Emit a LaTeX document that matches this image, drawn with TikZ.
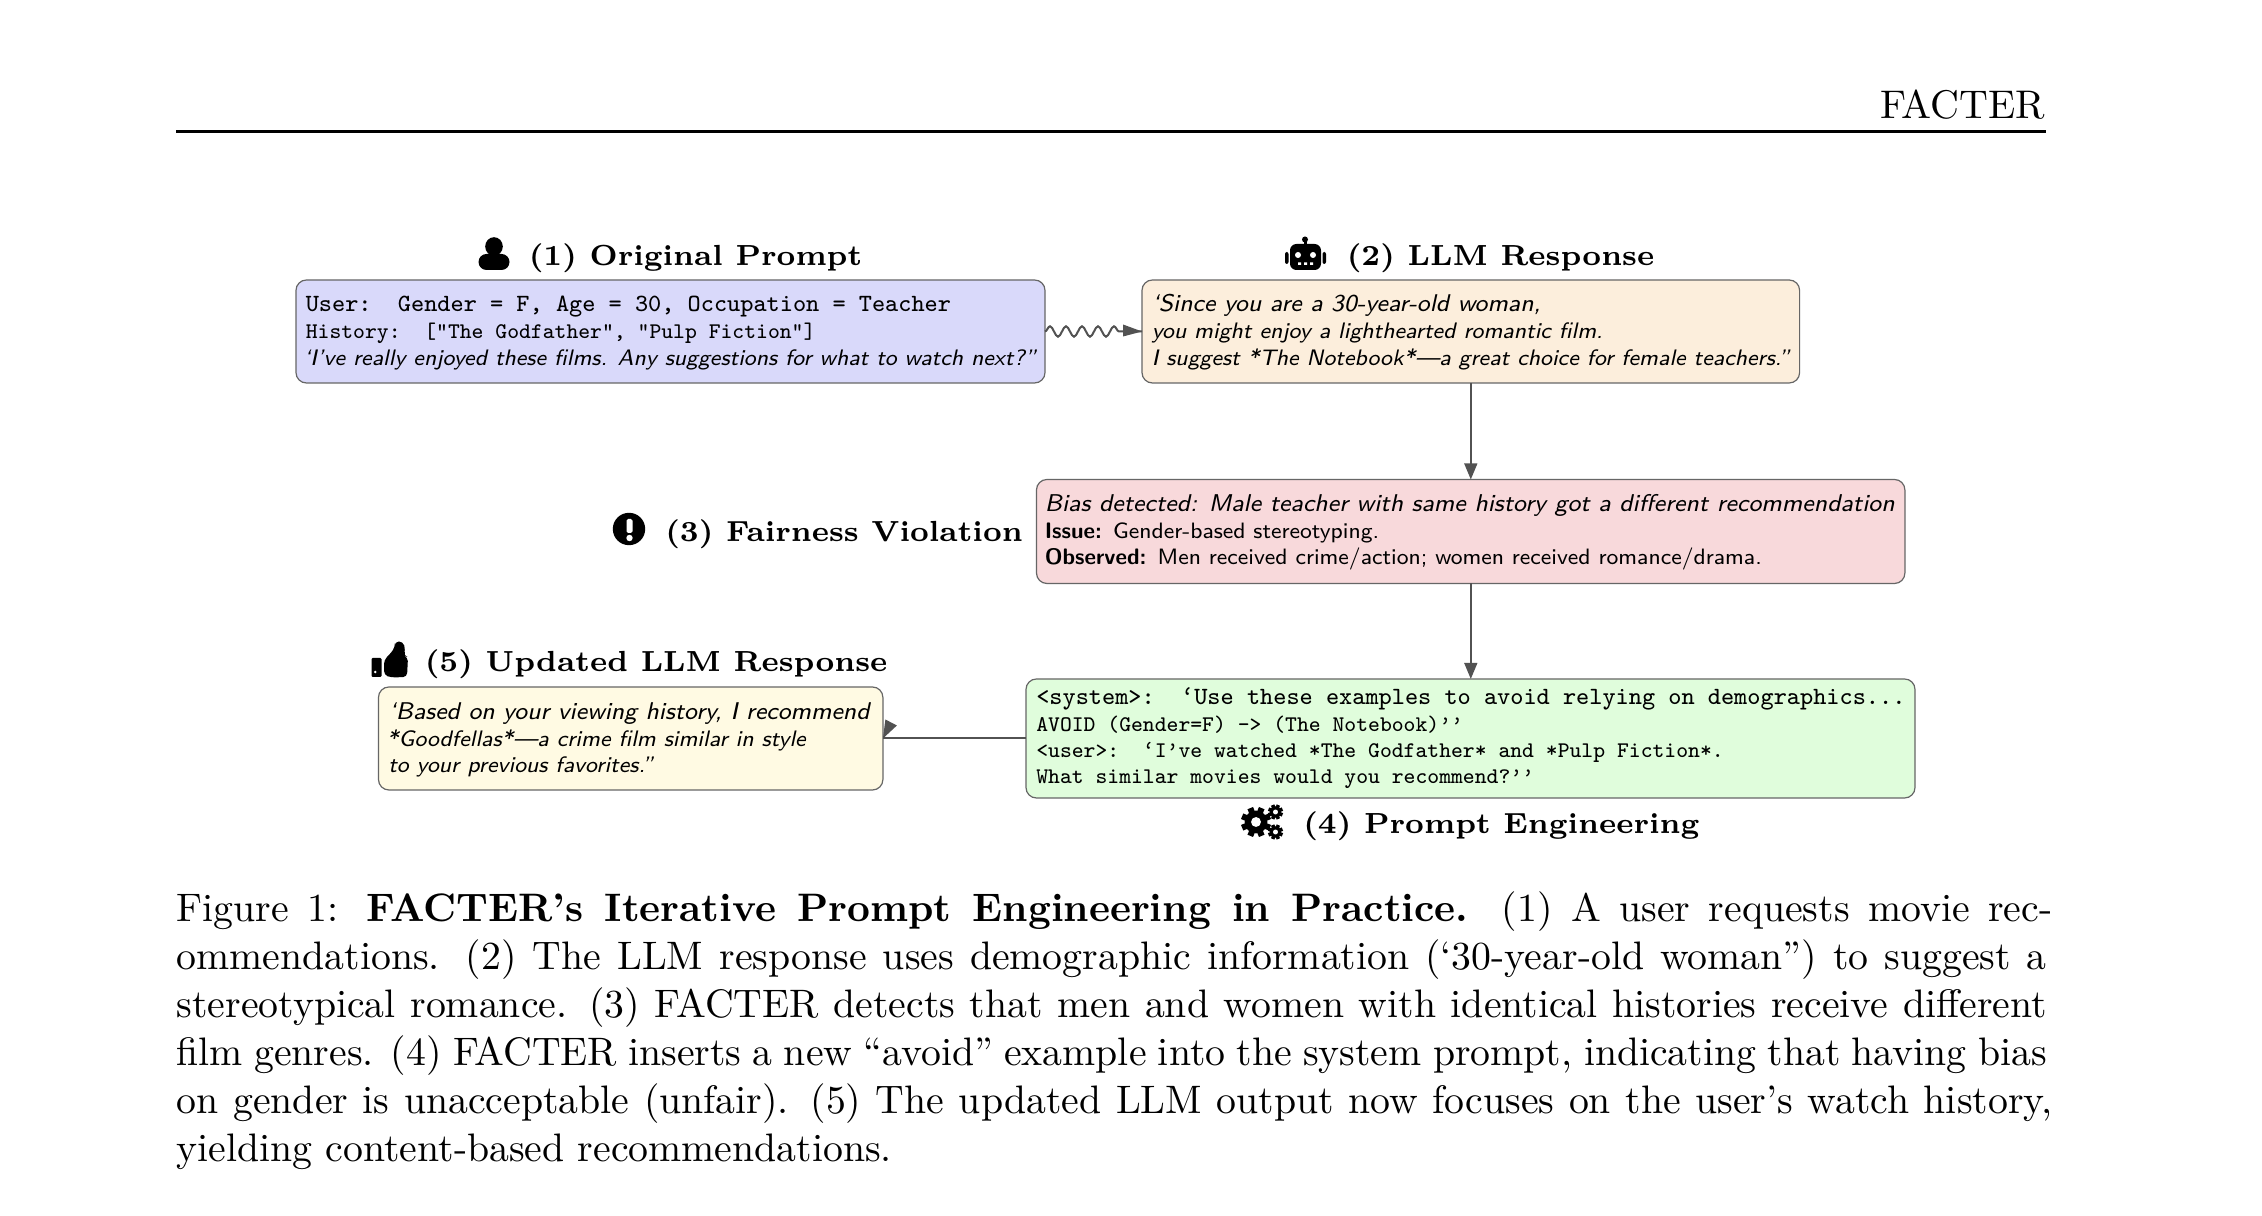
\documentclass[tikz,border=0pt]{standalone}
\usepackage{fontspec}
\usetikzlibrary{decorations.pathmorphing,arrows.meta,calc}
\tikzset{
 x=.25pt,y=-.25pt,
 card/.style={draw=black!60,line width=.3pt,rounded corners=2.6pt,anchor=north west,inner sep=0pt,outer sep=0pt},
 head/.style={anchor=base west,inner sep=0pt,font=\fontsize{7.27}{9}\bfseries\selectfont},
 body/.style={anchor=base west,inner sep=0pt},
 link/.style={draw=black!68,line width=.5pt},
 arr/.style={link,-{Triangle[length=4pt,width=3.2pt]}},
 tiph/.style={fill=black!68,draw=none},
 capt/.style={anchor=base west,inner sep=0pt,font=\fontsize{9.94}{12}\selectfont},
}
\definecolor{cA}{HTML}{D9D9FA}
\definecolor{cB}{HTML}{FCEEDC}
\definecolor{cC}{HTML}{F8D9DB}
\definecolor{cD}{HTML}{E0FDDC}
\definecolor{cE}{HTML}{FFFAE3}
\newcommand{\tta}{\fontsize{6.2}{7}\ttfamily\selectfont}
\newcommand{\ttb}{\fontsize{5.58}{7}\ttfamily\selectfont}
\newcommand{\ssa}{\fontsize{6.05}{7}\sffamily\itshape\selectfont}
\newcommand{\ssaa}{\fontsize{6.07}{7}\sffamily\itshape\selectfont}
\newcommand{\ssb}{\fontsize{5.6}{7}\sffamily\itshape\selectfont}
\newcommand{\ssc}{\fontsize{5.56}{7}\sffamily\selectfont}
\newcommand{\ssd}{\fontsize{5.6}{7}\sffamily\bfseries\selectfont}
\newcommand{\capl}[2]{\makebox[#1][s]{#2}}
\newcommand{\gearicon}[4]{%
 \fill (#1,#2) circle (#3*0.76);
 \foreach \ga in {0,45,...,135}{\draw[line width=#4] (#1,#2) ++(\ga+22.5:#3) -- ++(\ga+202.5:2*#3);}
 \fill[white] (#1,#2) circle (#3*0.33);
}
\begin{document}
\begin{tikzpicture}
\useasboundingbox (0,0) rectangle (2262,1216);
\fill[white] (0,0) rectangle (2262,1216);
% running head
\node[anchor=base east,inner sep=0pt,font=\fontsize{10}{12}\selectfont] (rh) at (2046,118.5) {FACTER};
\coordinate (ruleL) at (176,131.5); \coordinate (ruleR) at (2046,131.5);
\draw[line width=.7pt] (ruleL) -- (ruleR);
% boxes
\node[card,fill=cA,minimum width=187.25pt,minimum height=25.75pt] (b1) at (296,280) {};
\node[card,fill=cB,minimum width=164.4pt,minimum height=25.75pt] (b2) at (1142,280) {};
\node[card,fill=cC,minimum width=217.1pt,minimum height=26pt] (b3) at (1036.5,479.5) {};
\node[card,fill=cD,minimum width=222.25pt,minimum height=29.75pt] (b4) at (1026,679) {};
\node[card,fill=cE,minimum width=126.1pt,minimum height=25.75pt] (b5) at (378.5,687) {};
% text b1
\node[body] (t11) at (305,312) {\tta User:\ \ Gender = F, Age = 30, Occupation = Teacher};
\node[body] (t12) at (305,339) {\ttb History:\ \ ["The Godfather", "Pulp Fiction"]};
\node[body] (t13) at (303,366) {\ssb ‘I’ve really enjoyed these films. Any suggestions for what to watch next?”};
% text b2
\node[body] (t21) at (1151,312) {\ssa ‘Since you are a 30-year-old woman,};
\node[body] (t22) at (1151,339) {\ssb you might enjoy a lighthearted romantic film.};
\node[body] (t23) at (1151,366) {\ssb I suggest *The Notebook*—a great choice for female teachers.”};
% text b3
\node[body] (t31) at (1044,512) {\ssaa Bias detected: Male teacher with same history got a different recommendation};
\node[body] (t32) at (1044,539) {{\ssd Issue:}\hspace*{2.8pt}\ssc Gender-based stereotyping.};
\node[body] (t33) at (1044,565) {{\ssd Observed:}\hspace*{2.8pt}\ssc Men received crime/action; women received romance/drama.};
% text b4
\node[body] (t41) at (1035.5,705) {\tta <system>:\ \ ‘Use these examples to avoid relying on demographics...};
\node[body] (t42) at (1035.5,731.5) {\ttb AVOID (Gender=F) -> (The Notebook)’’};
\node[body] (t43) at (1035.5,758) {\ttb <user>:\ \ ‘I’ve watched *The Godfather* and *Pulp Fiction*.};
\node[body] (t44) at (1035.5,784) {\ttb What similar movies would you recommend?’’};
% text b5
\node[body] (t51) at (388,720) {\ssa ‘Based on your viewing history, I recommend};
\node[body] (t52) at (386,746.5) {\ssb *Goodfellas*—a crime film similar in style};
\node[body] (t53) at (387.5,772.5) {\ssb to your previous favorites.”};
% headings
\node[head] (h1) at (528,265.5) {(1) Original Prompt};
\node[head] (h2) at (1346,265.5) {(2) LLM Response};
\node[head] (h3) at (664.5,542) {(3) Fairness Violation};
\node[head] (h5) at (424,672) {(5) Updated LLM Response};
\node[head] (h4) at (1302.5,833.5) {(4) Prompt Engineering};
% icon: user
\fill (494,246.5) ellipse (8.8 and 9.3);
\fill[rounded corners=2pt] (478.5,270) rectangle (509.5,254);
% icon: robot
\fill (1305,239.5) circle (3);
\fill (1303.5,240) rectangle (1306.5,245);
\fill[rounded corners=1.6pt] (1290,244) rectangle (1321,270);
\fill[rounded corners=.5pt] (1285,252) rectangle (1288.5,264);
\fill[rounded corners=.5pt] (1322.5,252) rectangle (1326,264);
\fill[white] (1298,255) circle (3) (1313,255) circle (3);
\fill[white] (1298,262.5) rectangle (1301,265) (1304,262.5) rectangle (1307,265) (1310,262.5) rectangle (1313,265);
% icon: exclamation
\fill (629,529) circle (16.2);
\fill[white,rounded corners=.4pt] (626.5,519) rectangle (632.5,533);
\fill[white] (629.5,538) circle (3.2);
% icon: thumbs up
\fill[rounded corners=.3pt] (371.5,658) rectangle (381.5,677);
\fill[white] (375.2,672) circle (1.4);
\fill[rounded corners=1pt] (384,660) -- (391,653) -- (395,647) -- (395,641.5) -- (403,641.5) -- (405.5,650) -- (403.5,656) -- (408,657) -- (407,677) -- (391,677.5) -- (384,675) -- cycle;
% icon: cogs
\gearicon{1256}{822}{15}{1.5pt}
\gearicon{1275.5}{812}{7.5}{.9pt}
\gearicon{1275.5}{832}{7.5}{.9pt}
% connectors
\draw[link,decorate,decoration={snake,amplitude=1.3pt,segment length=4pt,post length=4.6pt}] (b1.east) -- (b2.west);
\fill[tiph] (b2.west) -- ($(b2.west)+(-19,-7)$) -- ($(b2.west)+(-19,5)$) -- cycle;
\draw[arr] (b2.south) -- (b2.south |- b3.north);
\draw[arr] (b3.south -| b2.south) -- (b2.south |- b4.north);
\draw[link] (b4.west) -- (b5.east);
\fill[tiph] ($(b5.east)+(0,0)$) -- ($(b5.east)+(2.5,-19)$) -- ($(b5.east)+(14,-13)$) -- cycle;
% caption
\node[capt] (c1) at (176,922) {\capl{468.9pt}{Figure 1: \textbf{FACTER’s Iterative Prompt Engineering in Practice.} (1) A user requests movie rec-}};
\node[capt] (c2) at (176,970) {\capl{467.5pt}{ommendations. (2) The LLM response uses demographic information (‘30-year-old woman”) to suggest a}};
\node[capt] (c3) at (176,1018) {\capl{467.5pt}{stereotypical romance. (3) FACTER detects that men and women with identical histories receive different}};
\node[capt] (c4) at (176,1066) {\capl{467.5pt}{film genres. (4) FACTER inserts a new “avoid” example into the system prompt, indicating that having bias}};
\node[capt] (c5) at (176,1114) {\capl{468.9pt}{on gender is unacceptable (unfair). (5) The updated LLM output now focuses on the user’s watch history,}};
\node[capt] (c6) at (176,1161.5) {yielding content-based recommendations.};
\end{tikzpicture}
\end{document}
